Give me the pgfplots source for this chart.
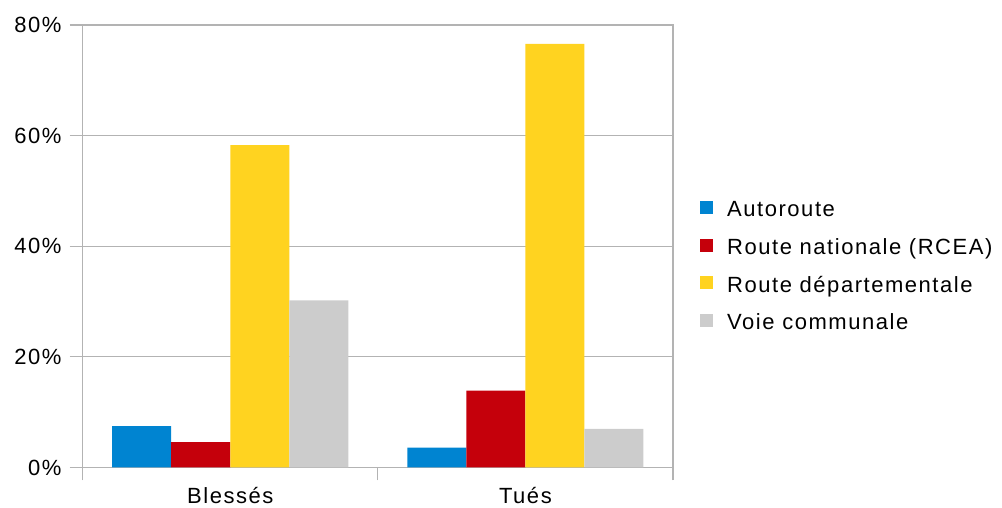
\documentclass[border=0pt]{standalone}
\usepackage{fontspec}
\setmainfont{Liberation Sans}[LetterSpace=7]
\usepackage{pgfplots}
\pgfplotsset{compat=1.18}

\definecolor{cAuto}{HTML}{0084D1}
\definecolor{cRN}{HTML}{C5000B}
\definecolor{cRD}{HTML}{FFD320}
\definecolor{cVC}{HTML}{CCCCCC}
\definecolor{gridgray}{HTML}{B3B3B3}

\begin{document}
\begin{tikzpicture}[x=1pt,y=1pt]
\useasboundingbox (0,0) rectangle (1002,508);
\begin{axis}[
  at={(82.7pt,40.5pt)}, anchor=south west,
  scale only axis, width=590.3pt, height=442.5pt,
  xmin=-0.5, xmax=1.5, ymin=0, ymax=80,
  ybar=0pt, bar width=0.2,
  axis line style={line width=1.2pt, color=gridgray},
  xtick pos=bottom, ytick pos=left,
  xtick={-0.5,0.5,1.5}, xticklabels={},
  extra x ticks={0,1}, extra x tick labels={Blessés,Tués},
  extra x tick style={major tick length=0pt, grid=none},
  xticklabel style={anchor=base, inner sep=0pt, yshift=-36pt},
  ytick={0,20,40,60,80}, yticklabels={0\%,20\%,40\%,60\%,80\%},
  yticklabel style={anchor=east, inner sep=0pt, xshift=-8pt},
  ymajorgrids, grid style={line width=1.2pt, color=gridgray},
  tick style={line width=1.2pt, color=gridgray},
  tick align=outside, major tick length=13pt,
  tick label style={font=\fontsize{22}{26}\selectfont, text=black},
  legend style={draw=none, fill=none, at={(1,0.5)}, anchor=west,
    xshift=24pt, yshift=-21.5pt, font=\fontsize{22}{26}\selectfont,
    row sep=16.6pt, column sep=14pt,
    nodes={inner sep=0pt, text height=16pt, text depth=5pt}},
  legend cell align=left,
  legend image code/.code={\fill[#1] (0pt,-2.6pt) rectangle (13pt,10.4pt);},
]
\addplot[fill=cAuto, draw=none] coordinates {(0,7.5) (1,3.6)};
\addplot[fill=cRN, draw=none] coordinates {(0,4.6) (1,13.9)};
\addplot[fill=cRD, draw=none] coordinates {(0,58.3) (1,76.6)};
\addplot[fill=cVC, draw=none] coordinates {(0,30.2) (1,7.0)};
\legend{Autoroute, Route nationale (RCEA), Route départementale, Voie communale}
\end{axis}
\end{tikzpicture}
\end{document}
